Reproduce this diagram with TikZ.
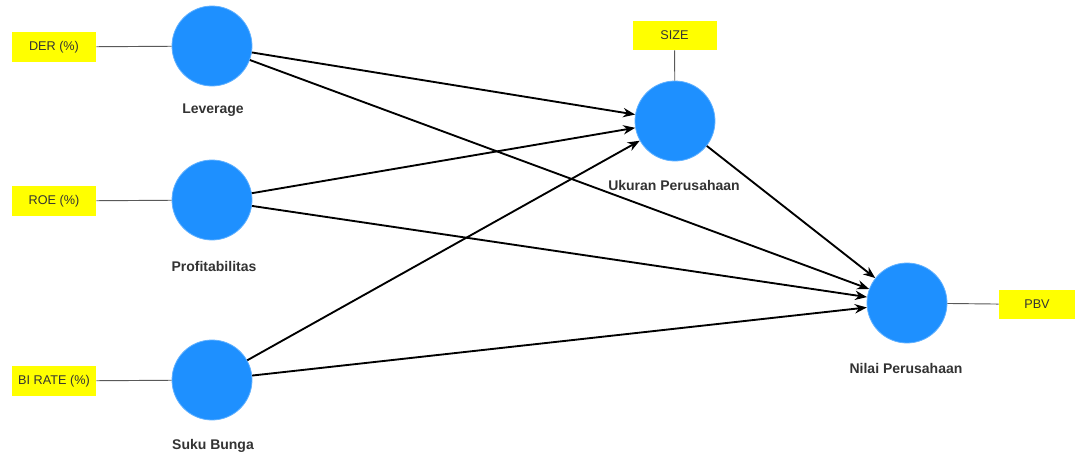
\documentclass[tikz,border=0pt]{standalone}
\usepackage{fontspec}
\setmainfont{Liberation Sans}
\usetikzlibrary{arrows.meta}
\definecolor{lvblue}{RGB}{30,144,255}
\definecolor{indyellow}{RGB}{255,255,0}
\begin{document}
\begin{tikzpicture}[x=0.75pt,y=-0.75pt,
  latent/.style={circle,fill=lvblue,draw=lvblue!70!white,line width=0.6pt,minimum size=60pt,inner sep=0pt},
  indicator/.style={fill=indyellow,minimum width=63pt,minimum height=22pt,inner sep=0pt,font=\fontsize{9.5}{11}\selectfont,text=black!80},
  lvlabel/.style={font=\bfseries\fontsize{10.5}{12}\selectfont,text=black!80},
  path/.style={line width=1.4pt,-{Stealth[length=9pt,width=7pt]}},
  load/.style={line width=0.7pt,draw=black!65}]
\useasboundingbox (0,0) rectangle (1075,457);
% latent variables
\node[latent] (lev) at (212,46) {};
\node[latent] (pro) at (212,200) {};
\node[latent] (suk) at (212,380) {};
\node[latent] (uku) at (675,121) {};
\node[latent] (nil) at (907,303) {};
% labels
\node[lvlabel] (levl) at (213,110) {Leverage};
\node[lvlabel] (prol) at (214,266) {Profitabilitas};
\node[lvlabel] (sukl) at (213,446) {Suku Bunga};
\node[lvlabel] (ukul) at (674,185) {Ukuran Perusahaan};
\node[lvlabel] (nill) at (906,368) {Nilai Perusahaan};
% indicators
\node[indicator] (der) at (54,47) {DER (\%)};
\node[indicator] (roe) at (54,201) {ROE (\%)};
\node[indicator] (bir) at (54,381) {BI RATE (\%)};
\node[indicator] (size) at (674.5,35.5) {SIZE};
\node[indicator,minimum width=57pt] (pbv) at (1037,304.5) {PBV};
% loadings
\draw[load] (der) -- (lev);
\draw[load] (roe) -- (pro);
\draw[load] (bir) -- (suk);
\draw[load] (size) -- (uku);
\draw[load] (pbv) -- (nil);
% structural paths
\draw[path] (lev) -- (uku);
\draw[path] (lev) -- (nil);
\draw[path] (pro) -- (uku);
\draw[path] (pro) -- (nil);
\draw[path] (suk) -- (uku);
\draw[path] (suk) -- (nil);
\draw[path] (uku) -- (nil);
\end{tikzpicture}
\end{document}
